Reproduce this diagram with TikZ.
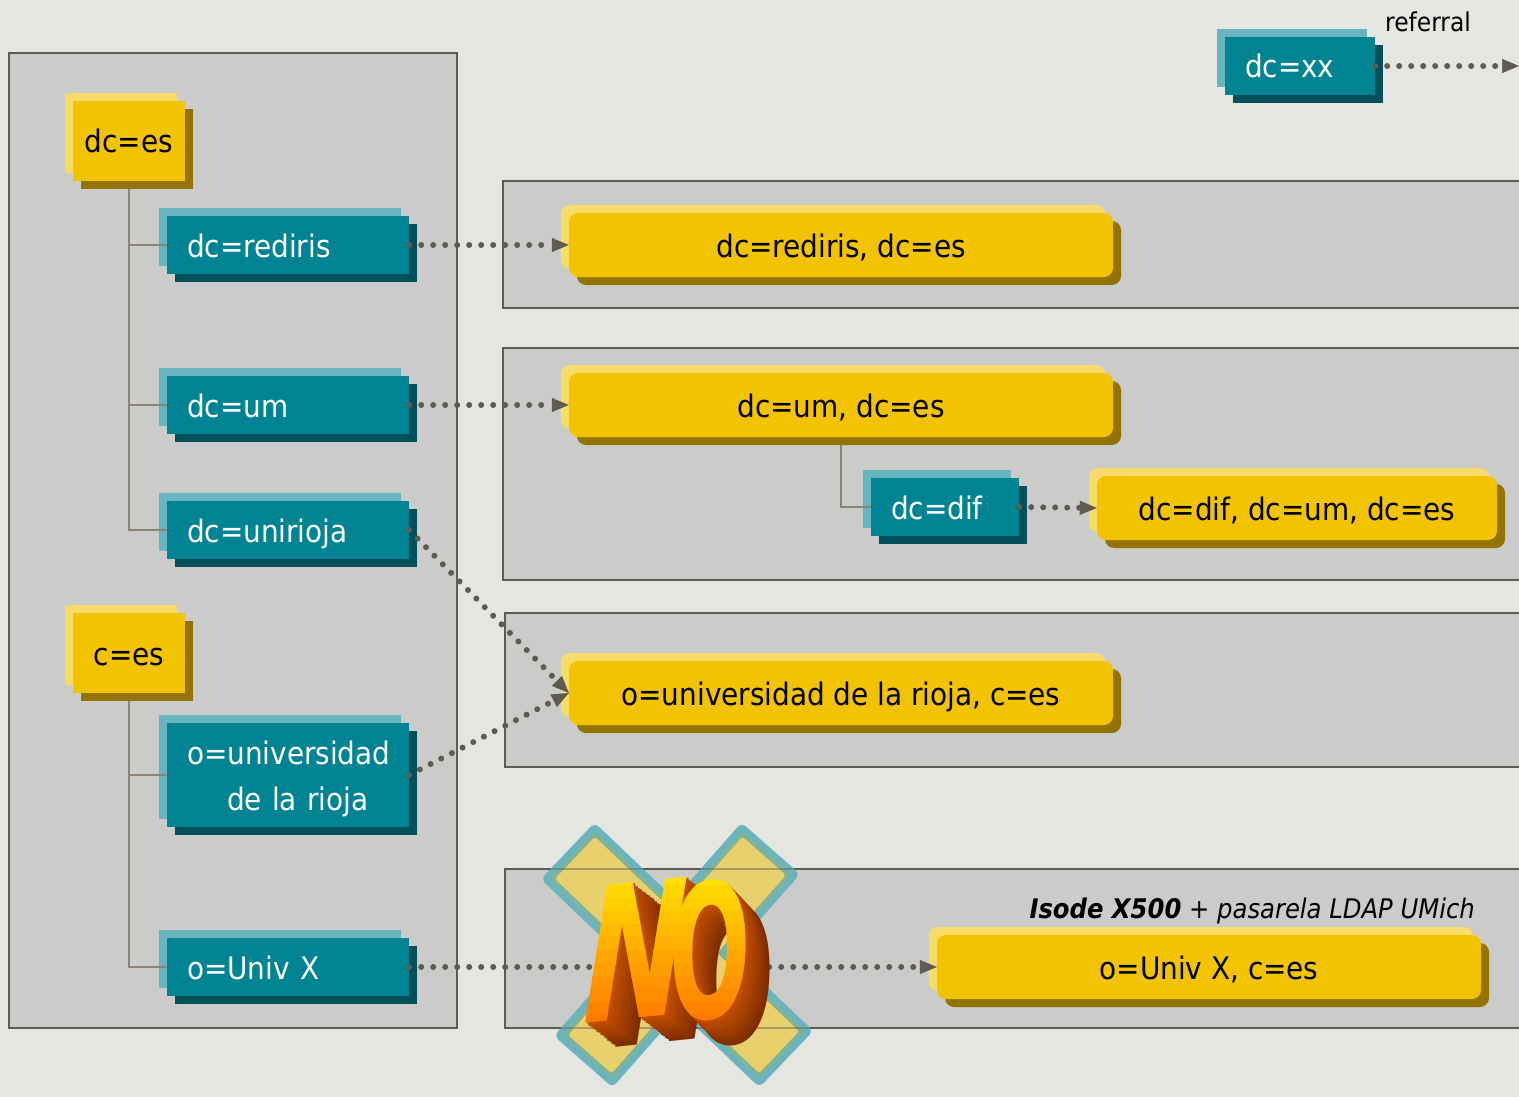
\documentclass[tikz,border=0pt]{standalone}
\usepackage{fontspec}
\setmainfont{DejaVu Sans Condensed}[BoldFont={DejaVu Sans Condensed Bold},ItalicFont={DejaVu Sans Condensed Oblique},BoldItalicFont={DejaVu Sans Condensed Bold Oblique}]
\newfontfamily\nofont{DejaVu Sans Bold}
\usetikzlibrary{shadows,arrows.meta,calc}
\definecolor{bgc}{HTML}{E5E6E1}
\definecolor{panelc}{HTML}{CBCBC9}
\definecolor{edgec}{HTML}{5F5A52}
\definecolor{ylight}{HTML}{F8DC6A}
\definecolor{ymain}{HTML}{F2C300}
\definecolor{ydark}{HTML}{937400}
\definecolor{tlight}{HTML}{66B5BF}
\definecolor{tmain}{HTML}{008494}
\definecolor{tdark}{HTML}{004F5B}
\definecolor{treec}{HTML}{8C8378}
\definecolor{xfill}{HTML}{E8D06C}
\definecolor{xmid}{HTML}{7FB49A}
\definecolor{xedge}{HTML}{6BB4BE}
\definecolor{notop}{HTML}{FFE000}
\definecolor{nobot}{HTML}{FF6A00}
\definecolor{nonear}{HTML}{C65000}
\definecolor{nofar}{HTML}{7E2C00}
\begin{document}
\begin{tikzpicture}[x=1pt,y=-1pt,
  panel/.style={fill=panelc, draw=edgec, line width=2pt},
  boxfont/.style={font=\fontsize{31}{46}\selectfont},
  onebase/.style={text height=28pt, text depth=4pt},
  tealbase/.style={rectangle, fill=tmain, text=white, boxfont, inner xsep=20pt, inner ysep=0pt,
    text width=#1, align=left, minimum height=58pt,
    general shadow={fill=tlight, shadow xshift=-8pt, shadow yshift=8pt},
    general shadow={fill=tdark, shadow xshift=8pt, shadow yshift=-8pt}},
  tealbox/.style={tealbase=#1, onebase},
  ybox/.style={rectangle, fill=ymain, text=black, boxfont, onebase, inner sep=0pt,
    minimum width=112pt, minimum height=80pt,
    general shadow={fill=ylight, shadow xshift=-8pt, shadow yshift=8pt},
    general shadow={fill=ydark, shadow xshift=8pt, shadow yshift=-8pt}},
  yround/.style={rectangle, rounded corners=9pt, fill=ymain, text=black, boxfont, onebase, inner sep=0pt,
    minimum width=#1, minimum height=64pt,
    general shadow={fill=ylight, shadow xshift=-8pt, shadow yshift=8pt},
    general shadow={fill=ydark, shadow xshift=8pt, shadow yshift=-8pt}},
  tree/.style={draw=treec, line width=2pt},
  ref/.style={draw=edgec, line width=6pt, line cap=round, dash pattern=on 0pt off 12pt,
    -{Triangle[length=17pt,width=14pt,line width=0.5pt]}},
  noletter/.style={font=\nofont\fontsize{185}{185}\selectfont, inner sep=0pt, transform shape}
]
\useasboundingbox (0,0) rectangle (1519,1097);
\fill[bgc] (0,0) rectangle (1519,1097);

% panels
\draw[panel] (9,53) rectangle (457,1028);
\draw[panel] (503,181) rectangle (1535,308);
\draw[panel] (503,348) rectangle (1535,580);
\draw[panel] (505,613) rectangle (1535,767);
\draw[panel] (505,869) rectangle (1535,1028);

% left tree
\node[ybox] (es) at (129,141) {dc=es};
\node[tealbox=202pt] (rediris) at (288,245) {dc=rediris};
\node[tealbox=202pt] (um) at (288,405) {dc=um};
\node[tealbox=202pt] (unirioja) at (288,530) {dc=unirioja};
\node[ybox] (ces) at (129,653) {c=es};
\node[tealbase=202pt, minimum height=104pt, text height=12pt, text depth=34pt] (univ) at (288,775) {o=universidad\\\hspace*{40pt}de la rioja};
\node[tealbox=202pt] (univx) at (288,967) {o=Univ X};

% right boxes
\node[yround=544pt] (yrediris) at (841,245) {dc=rediris, dc=es};
\node[yround=544pt] (yum) at (841,405) {dc=um, dc=es};
\node[tealbox=108pt] (dif) at (945,507) {dc=dif};
\node[yround=400pt] (ydif) at (1297,508) {dc=dif, dc=um, dc=es};
\node[yround=544pt] (yrioja) at (841,693) {o=universidad de la rioja, c=es};
\node[yround=544pt] (yunivx) at (1209,967) {o=Univ X, c=es};
\node[anchor=east, inner sep=0pt, font=\fontsize{27}{30}\selectfont\itshape] (isode) at (1475,911) {\textbf{Isode X500} + pasarela LDAP UMich};

% referral
\node[tealbox=110pt] (xx) at (1300,66) {dc=xx};
\node[inner sep=0pt, font=\fontsize{26}{30}\selectfont] (referral) at (1428,22) {referral};
\coordinate (refend) at (1519,66);

% tree lines
\coordinate (esb) at ([yshift=-8pt]es.south);
\coordinate (cesb) at ([yshift=-8pt]ces.south);
\coordinate (yumb) at ([yshift=-8pt]yum.south);
\draw[tree] (esb) |- (rediris.west);
\draw[tree] (esb) |- (um.west);
\draw[tree] (esb) |- (unirioja.west);
\draw[tree] (cesb) |- (univ.west);
\draw[tree] (cesb) |- (univx.west);
\draw[tree] (yumb) |- (dif.west);

% referral arrows
\draw[ref] (rediris.east) -- (yrediris.west);
\draw[ref] (um.east) -- (yum.west);
\draw[ref] (unirioja.east) -- (yrioja.west);
\draw[ref] (univ.east) -- (yrioja.west);
\draw[ref] (dif.east) -- (ydif.west);
\draw[ref] (univx.east) -- (yunivx.west);
\draw[ref] (xx.east) -- (refend);

% the NO cross
\foreach \ang/\len in {-43.6/302, 48.7/284} {
  \begin{scope}[shift={(677,955)}, rotate=\ang]
    \fill[xedge, rounded corners=6pt] (-\len/2,-39) rectangle (\len/2,39);
  \end{scope}
}
\foreach \ang/\len in {-43.6/302, 48.7/284} {
  \begin{scope}[shift={(677,955)}, rotate=\ang]
    \fill[xmid, rounded corners=4pt] (-\len/2+6,-33) rectangle (\len/2-6,33);
  \end{scope}
}
\foreach \ang/\len in {-43.6/302, 48.7/284} {
  \begin{scope}[shift={(677,955)}, rotate=\ang]
    \fill[xfill, rounded corners=3pt] (-\len/2+10,-29) rectangle (\len/2-10,29);
  \end{scope}
}
\draw[edgec, line width=2pt, draw opacity=0.45] (540,869) -- (820,869);
\draw[edgec, line width=2pt, draw opacity=0.45] (540,1028) -- (820,1028);

% NO letters: extrusion
\foreach \i [evaluate=\i as \p using int(100*\i/16)] in {16,15,...,1} {
  \begin{scope}[shift={(636+1.9*\i,950+1.5*\i)}, rotate=6, xslant=0.27, xscale=0.66]
    \node[noletter, text=nofar!\p!nonear] (nside\i) at (0,0) {N};
  \end{scope}
  \begin{scope}[shift={(710+1.5*\i,950+1.6*\i)}, rotate=6, xslant=0.12, xscale=0.52]
    \node[noletter, text=nofar!\p!nonear] (oside\i) at (0,0) {O};
  \end{scope}
}
% NO letters: faces with stepped gradient
\foreach \k [evaluate=\k as \p using int(100-\k*8)] in {0,...,12} {
  \begin{scope}
    \clip (560,872+13*\k) rectangle (800,886+13*\k);
    \begin{scope}[shift={(636,950)}, rotate=6, xslant=0.27, xscale=0.66]
      \node[noletter, text=notop!\p!nobot] (nface\k) at (0,0) {N};
    \end{scope}
    \begin{scope}[shift={(710,950)}, rotate=6, xslant=0.12, xscale=0.52]
      \node[noletter, text=notop!\p!nobot] (oface\k) at (0,0) {O};
    \end{scope}
  \end{scope}
}
\end{tikzpicture}
\end{document}
